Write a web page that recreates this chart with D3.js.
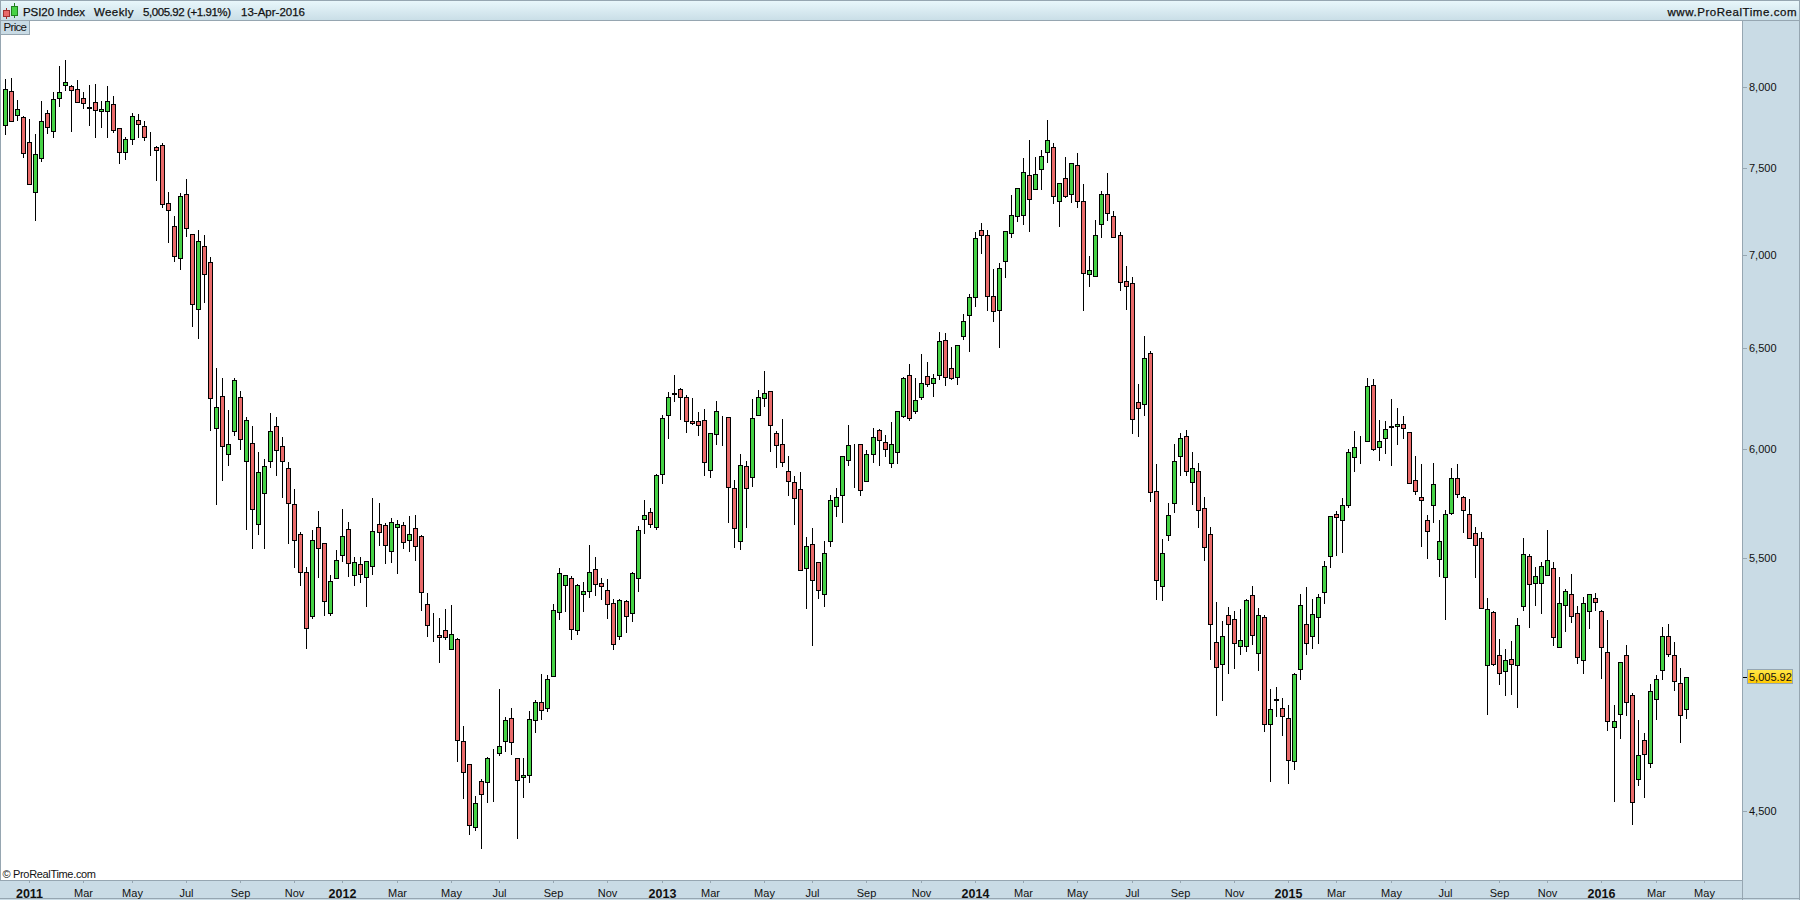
<!DOCTYPE html>
<html><head><meta charset="utf-8">
<script src="https://cdn.jsdelivr.net/npm/d3@7"></script>
<style>
html,body{margin:0;padding:0;background:#fff;overflow:hidden}
svg{display:block}
text{font-family:"Liberation Sans",Arial,sans-serif;fill:#111}
</style></head><body><svg id="c" width="1800" height="900"></svg>
<script>
const opens=[7760,7975,7824,7811,7658,7359,7561,7836,7724,7931,
8012,8006,7987,7931,7874,7906,7849,7849,7893,7742,
7597,7676,7792,7755,7637,7627,7639,7295,7162,6983,
7347,7117,6705,7050,6960,6100,6257,5975,6085,6252,
5942,6028,5651,5792,5942,6109,6014,5909,5742,5607,
5440,5253,5638,5567,5266,5414,5515,5629,5429,5475,
5418,5466,5655,5647,5532,5638,5647,5581,5633,5598,
5304,5191,5175,5195,5118,5159,4757,4670,4444,4607,
4604,4698,4712,4757,4844,4693,4622,4629,4836,4906,
4883,5008,5270,5384,5414,5195,5346,5359,5453,5393,
5363,5308,5171,5316,5266,5414,5674,5706,5638,5880,
6163,6272,6292,6252,6133,6133,6138,5899,6071,6095,
6153,5816,5576,5918,5866,6163,6247,6282,6076,6023,
5895,5844,5811,5457,5563,5484,5346,5576,5733,5784,
5947,6009,6023,5849,5975,6090,6033,5933,5985,6158,
6362,6183,6252,6357,6322,6362,6542,6398,6352,6563,
6673,6770,7139,7111,6775,6700,6966,7123,7219,7225,
7457,7376,7495,7597,7627,7306,7440,7347,7519,7306,
6893,6887,7173,7347,7219,7111,6856,6845,6228,6218,
6475,5802,5380,5603,5747,5966,6061,5844,5895,5724,
5607,5146,5057,5257,5240,5130,5130,5342,5102,5249,
4824,4917,4883,4844,4682,5037,5219,5171,5249,5355,
5510,5697,5669,5738,5961,6033,6037,6312,6009,6052,
6112,6109,6118,6080,5852,5774,5669,5738,5497,5418,
5701,5861,5774,5697,5611,5589,5053,5270,5093,5028,
5077,5053,5295,5510,5393,5393,5427,5457,5126,5300,
5346,5266,5073,5274,5329,5274,5106,4810,4859,5093,
4933,4615,4760,4674,4918,5032,5171,5093,4980,4879];
const highs=[8052,8059,7920,7819,7800,7708,7914,7857,7970,8134,
8172,8014,8046,7970,8014,8021,7914,8008,7945,7742,
7688,7838,7832,7786,7717,7633,7651,7359,7221,7353,
7434,7117,7141,7113,6988,6398,6348,6189,6347,6282,
6153,6109,5985,5952,6173,6153,6057,5937,5811,5616,
5462,5625,5710,5567,5427,5537,5719,5660,5506,5506,
5488,5770,5747,5656,5678,5669,5664,5687,5695,5603,
5350,5266,5245,5283,5300,5163,4815,4670,4553,4615,
4697,4727,4957,4848,4883,4693,4693,4871,4914,5017,
5012,5304,5457,5427,5422,5388,5397,5559,5506,5414,
5410,5325,5325,5321,5440,5642,5761,5724,5880,6163,
6277,6362,6297,6262,6247,6178,6193,6076,6233,6158,
6153,5852,5975,5942,6242,6287,6382,6282,6085,6143,
5966,5871,5893,5594,5633,5484,5576,5784,5816,5966,
6114,6023,6023,5995,6100,6095,6066,6128,6183,6352,
6418,6347,6470,6428,6367,6583,6578,6506,6516,6678,
6786,7128,7178,7139,6921,6955,7134,7341,7383,7561,
7669,7567,7609,7792,7651,7411,7567,7531,7591,7405,
6994,7196,7364,7469,7248,7128,6938,6877,6317,6563,
6485,5928,5585,5747,6023,6076,6090,5985,5933,5775,
5638,5312,5232,5291,5274,5283,5325,5380,5287,5257,
4957,4968,4922,4894,5020,5346,5376,5325,5346,5488,
5687,5710,5770,5999,6085,6061,6347,6342,6138,6133,
6242,6198,6158,6080,5966,5928,5692,5933,5673,5715,
5909,5928,5779,5765,5638,5616,5329,5274,5159,5118,
5150,5245,5589,5519,5462,5484,5625,5484,5418,5367,
5431,5295,5333,5346,5350,5278,5236,4894,5065,5134,
4941,4836,4786,4976,5012,5207,5220,5146,5040,5006];
const lows=[7704,7786,7794,7570,7405,7200,7546,7710,7691,7882,
7979,7728,7906,7865,7764,7691,7752,7691,7716,7534,
7558,7643,7691,7667,7577,7432,7275,7075,6969,6924,
7107,6617,6555,6746,6093,5745,5855,5926,6069,6002,
5632,5544,5610,5548,5916,5878,5777,5566,5465,5387,
5124,5245,5421,5260,5260,5414,5488,5425,5387,5399,
5298,5434,5561,5482,5486,5438,5544,5535,5495,5281,
5173,5149,5067,5159,5118,4682,4548,4417,4434,4368,
4534,4537,4704,4718,4708,4403,4552,4604,4790,4840,
4871,5008,5240,5274,5161,5179,5277,5336,5342,5325,
5245,5120,5159,5187,5232,5359,5614,5638,5629,5838,
6052,6233,6143,6080,6118,6066,5875,5869,6023,6018,
5660,5550,5541,5638,5825,6163,6208,5990,5913,5918,
5784,5651,5449,5287,5134,5329,5295,5554,5687,5660,
5923,5820,5784,5849,5937,5923,5966,5913,5933,6153,
6138,6173,6242,6307,6257,6342,6312,6342,6320,6547,
6485,6721,7011,6700,6641,6506,6877,7100,7190,7173,
7134,7376,7376,7537,7295,7162,7330,7301,7272,6700,
6829,6887,7100,7196,7100,6807,6705,6076,6061,6163,
5756,5325,5321,5581,5706,5875,5875,5742,5638,5493,
5077,4855,4914,5020,5043,5096,5112,5137,5032,4797,
4609,4854,4779,4600,4651,4996,5098,5124,5141,5308,
5462,5517,5530,5729,5895,5933,6037,5995,5950,5980,
5923,6026,6055,5838,5791,5554,5500,5662,5425,5240,
5697,5774,5618,5589,5418,5287,4859,5053,4976,4933,
4937,4886,5278,5207,5300,5266,5427,5134,5126,5191,
5228,5061,5020,5203,5278,5003,4798,4535,4770,4855,
4452,4595,4552,4659,4842,4996,5089,4953,4753,4844];
const closes=[7987,7786,7861,7591,7405,7585,7786,7748,7924,7968,
8031,7981,7906,7899,7868,7855,7861,7912,7730,7597,
7676,7817,7767,7688,7637,7609,7289,7254,6994,7335,
7151,6732,7078,6893,6247,6203,6014,6023,6337,6047,
6142,5719,5893,5918,6085,5995,5942,5747,5581,5440,
5203,5581,5545,5316,5401,5493,5598,5480,5484,5431,
5488,5620,5616,5559,5664,5651,5572,5607,5554,5355,
5215,5191,5167,5167,5179,4760,4640,4451,4528,4561,
4693,4696,4738,4836,4753,4611,4629,4840,4906,4875,
4996,5278,5435,5427,5199,5384,5359,5440,5388,5380,
5304,5138,5321,5253,5435,5625,5692,5655,5875,6148,
6252,6268,6252,6133,6123,6114,5937,6076,6183,6095,
5820,5633,5923,5816,6148,6252,6272,6114,6018,5937,
5849,5770,5449,5554,5405,5363,5523,5761,5774,5966,
6018,6009,5806,5975,6057,6042,5999,6023,6183,6347,
6148,6237,6322,6317,6347,6537,6352,6347,6516,6640,
6770,7095,7111,6775,6694,6926,7134,7225,7383,7477,
7318,7463,7573,7669,7335,7411,7335,7531,7306,6899,
6915,7111,7347,7237,7100,6852,6829,6143,6198,6449,
5797,5405,5523,5692,5942,6052,5895,5909,5715,5550,
5219,5045,5171,5219,5142,5154,5321,5175,5257,4824,
4879,4915,4851,4685,5017,5300,5142,5262,5333,5466,
5687,5683,5738,5985,6009,6033,6307,5999,6037,6095,
6108,6118,6100,5838,5802,5761,5620,5834,5576,5697,
5861,5788,5715,5589,5559,5287,5283,5057,5020,5073,
5057,5215,5519,5388,5422,5466,5493,5167,5308,5359,
5253,5085,5308,5346,5312,5126,4832,4832,5065,4906,
4532,4704,4708,4949,4999,5171,5098,4988,4855,5005.92];
const timeTickIndex=[4,13,21,30,39,48,56,65,74,82,91,100,109,117,126,134,143,152,161,169,178,187,195,204,213,221,230,239,248,256,265,274,282];
const timeTickLabels=["2011","Mar","May","Jul","Sep","Nov","2012","Mar","May","Jul","Sep","Nov","2013","Mar","May","Jul","Sep","Nov","2014","Mar","May","Jul","Sep","Nov","2015","Mar","May","Jul","Sep","Nov","2016","Mar","May"];
const priceTicks=[4500,5500,6000,6500,7000,7500,8000];
const instrument="PSI20 Index",period="Weekly",changeText="(+1.91%)",dateText="13-Apr-2016";

const W=1800,H=900,plotR=1743,plotB=881,plotT=21;
const edge="#96a6b1",panel="#c9dbe5",bull="#46d246",bear="#e96a6a";
const x=d3.scaleLinear().domain([0,279]).range([5,1685.8]).interpolate(d3.interpolateRound);
const y=d3.scaleLog().domain([4500,8000]).range([811,87]).interpolate(d3.interpolateRound);
const svg=d3.select("#c");
const defs=svg.append("defs");
const hg=defs.append("linearGradient").attr("id","hg").attr("x1",0).attr("x2",0).attr("y1",0).attr("y2",1);
hg.append("stop").attr("offset",0).attr("stop-color","#eaf8fc");
hg.append("stop").attr("offset",1).attr("stop-color","#c8dde6");
const yg=defs.append("linearGradient").attr("id","yg").attr("x1",0).attr("x2",0).attr("y1",0).attr("y2",1);
yg.append("stop").attr("offset",0).attr("stop-color","#ffe84a");
yg.append("stop").attr("offset",1).attr("stop-color","#ffc800");
const crisp=s=>s.attr("shape-rendering","crispEdges");

// frame panels
crisp(svg.append("rect")).attr("width",W).attr("height",H).attr("fill",panel);
crisp(svg.append("rect")).attr("x",1).attr("y",plotT).attr("width",plotR-1).attr("height",plotB-plotT).attr("fill","#fff");
crisp(svg.append("rect")).attr("x",0).attr("y",0).attr("width",W).attr("height",21).attr("fill","url(#hg)");
[[0,.5,W,.5],[0,20.5,W,20.5],[.5,0,.5,plotB],[plotR-.5,21,plotR-.5,H],[0,plotB-.5,plotR,plotB-.5],[0,H-1.5,W,H-1.5],[W-.5,0,W-.5,H]].forEach(l=>{
 crisp(svg.append("line")).attr("x1",l[0]).attr("y1",l[1]).attr("x2",l[2]).attr("y2",l[3]).attr("stroke",edge);
});

// header
crisp(svg.append("line")).attr("x1",6.5).attr("x2",6.5).attr("y1",8).attr("y2",19).attr("stroke","#a03030");
crisp(svg.append("rect")).attr("x",3.5).attr("y",10.5).attr("width",6).attr("height",6).attr("fill",bear).attr("stroke","#a03030");
crisp(svg.append("line")).attr("x1",14.5).attr("x2",14.5).attr("y1",3).attr("y2",18).attr("stroke","#208020");
crisp(svg.append("rect")).attr("x",11.5).attr("y",6.5).attr("width",6).attr("height",9).attr("fill",bull).attr("stroke","#208020");
const headerBits=[[23,instrument,62],[94,period,39.5],[143,d3.format(",.2f")(closes[closes.length-1])+" "+changeText,88],[241,dateText,64]];
svg.selectAll("text.hd").data(headerBits).join("text").attr("class","hd").attr("x",d=>d[0]).attr("y",15.5).attr("font-size",11.5).attr("stroke","#111").attr("stroke-width",.25).attr("textLength",d=>d[2]).attr("lengthAdjust","spacing").text(d=>d[1]);
svg.append("text").attr("x",1667.5).attr("y",15.5).attr("font-size",11.5).attr("stroke","#111").attr("stroke-width",.25).attr("textLength",129).attr("lengthAdjust","spacing").text("www.ProRealTime.com");

// Price tab
crisp(svg.append("rect")).attr("x",.5).attr("y",20.5).attr("width",29).attr("height",14).attr("fill",panel).attr("stroke",edge);
svg.append("text").attr("x",3.5).attr("y",31).attr("font-size",11.5).attr("textLength",23.5).text("Price");
svg.append("text").attr("x",2.5).attr("y",878).attr("font-size",11).attr("textLength",93.5).text("© ProRealTime.com");

// candles
const idx=d3.range(closes.length);
const g=crisp(svg.append("g"));
g.selectAll("line.w").data(idx).join("line").attr("class","w")
 .attr("x1",i=>x(i)+.5).attr("x2",i=>x(i)+.5).attr("y1",i=>y(highs[i])).attr("y2",i=>y(lows[i])+1)
 .attr("stroke","#000");
g.selectAll("rect.b").data(idx).join("rect").attr("class","b")
 .attr("x",i=>x(i)-1.5).attr("width",4)
 .attr("y",i=>Math.min(y(opens[i]),y(closes[i]))+.5)
 .attr("height",i=>Math.abs(y(opens[i])-y(closes[i])))
 .attr("fill",i=>closes[i]>=opens[i]?bull:bear).attr("stroke","#000");

// axes
const yAxis=d3.axisRight(y).tickValues(priceTicks).tickSize(4).tickPadding(2).tickFormat(d3.format(","));
const ya=svg.append("g").attr("transform",`translate(${plotR},0)`).call(yAxis);
const xAxis=d3.axisBottom(x).tickValues(timeTickIndex).tickSize(3).tickPadding(2).tickFormat((d,i)=>timeTickLabels[i]);
const xa=svg.append("g").attr("transform",`translate(0,${plotB-1})`).call(xAxis);
[ya,xa].forEach(a=>{a.select(".domain").remove();a.selectAll("line").attr("stroke",edge).attr("shape-rendering","crispEdges");a.selectAll("text").attr("font-family",'"Liberation Sans",Arial,sans-serif').attr("font-size",11).attr("fill","#111");});
xa.selectAll("text").attr("y",9).attr("dy",".71em").filter((d,i)=>/^\d{4}$/.test(timeTickLabels[i])).attr("font-weight","bold").attr("font-size",12.5);

// last price marker
const last=closes[closes.length-1],ly=y(last);
crisp(svg.append("line")).attr("x1",plotR).attr("x2",plotR+4).attr("y1",ly+.5).attr("y2",ly+.5).attr("stroke","#000");
crisp(svg.append("rect")).attr("x",1747.5).attr("y",ly-7.5).attr("width",45).attr("height",14).attr("fill","url(#yg)").attr("stroke",edge);
svg.append("text").attr("x",1749).attr("y",ly+4).attr("font-size",11).text(d3.format(",.2f")(last));
</script></body></html>
